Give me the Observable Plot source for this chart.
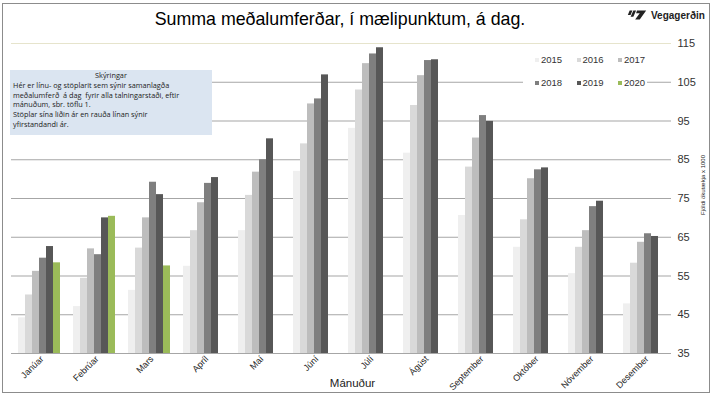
<!DOCTYPE html>
<html><head><meta charset="utf-8">
<script src="https://cdn.jsdelivr.net/npm/d3@7"></script>
<script src="https://cdn.jsdelivr.net/npm/@observablehq/plot@0.6"></script>
<style>
body{margin:0;background:#fff;font-family:"Liberation Sans",Arial,sans-serif;}
#wrap{position:relative;width:713px;height:396px;overflow:hidden;background:#fff;}
#chart{position:absolute;left:0;top:0;}
.ov{position:absolute;}
#outer{left:2px;top:3px;width:708px;height:390px;border:1px solid #8c8c8c;box-sizing:border-box;}
#title{left:0;width:680px;top:9px;text-align:center;font-size:17.8px;color:#000;}
#logo{left:626px;top:9px;font-size:10px;font-weight:bold;color:#222;display:flex;align-items:center;gap:3px;}
#note{left:10px;top:70px;width:202px;height:65px;background:#dbe5f1;font-family:"Open Sans",sans-serif;font-size:7.3px;line-height:9.8px;color:#222;padding:1px 3px;box-sizing:border-box;}
#note .h{text-align:center;}
#legend{left:523px;top:46px;width:124px;height:50px;background:#fff;font-size:9.5px;color:#333;}
#legend .it{position:absolute;display:flex;align-items:center;gap:2px;}
#legend .sw{width:4px;height:4px;display:inline-block;}
#xlab{left:0;width:713px;text-align:center;padding-right:8px;box-sizing:border-box;top:377px;font-size:11.5px;color:#222;}
#ylab{left:703px;top:185px;font-size:6px;color:#222;transform:translate(-50%,-50%) rotate(-90deg);white-space:nowrap;}
</style></head><body>
<div id="wrap">
<div id="chart"></div>
<div class="ov" id="outer"></div>
<div class="ov" id="title">Summa meðalumferðar, í mælipunktum, á dag.</div>
<div class="ov" id="logo"><svg width="22" height="12" viewBox="0 0 24 12"><polygon points="4,1 7,1 5,6 2,6" fill="#222"/><polygon points="8,1 11,1 8,8 5,8" fill="#222"/><polygon points="12,1 22,1 15,11 10,11 15,4 11,4" fill="#222"/></svg><span>Vegagerðin</span></div>
<div class="ov" id="note"><div class="h">Skýringar</div>Hér er línu- og stöplarit sem sýnir samanlagða<br>meðalumferð&nbsp; á dag&nbsp; fyrir alla talningarstaði, eftir<br>mánuðum, sbr. töflu 1.<br>Stöplar sína liðin ár en rauða línan sýnir<br>yfirstandandi ár.</div>
<div class="ov" id="legend"></div>
<div class="ov" id="xlab">Mánuður</div>
<div class="ov" id="ylab">Fjöldi ökutækja x 1000</div>
</div>
<script>
const months = ["Janúar","Febrúar","Mars","Apríl","Maí","Júní","Júlí","Ágúst","September","Október","Nóvember","Desember"];
const years = ["2015","2016","2017","2018","2019","2020"];
const colors = ["#efefef","#d9d9d9","#bdbdbd","#7f7f7f","#575757","#9bbb59"];
const v2015 = [44.2,47.1,51.3,57.5,66.7,82.0,93.1,86.7,70.6,62.4,55.6,47.8];
const v2016 = [50.1,54.4,62.2,66.7,75.8,89.1,103.0,99.0,83.1,69.5,62.4,58.3];
const v2017 = [56.2,62.0,70.0,73.9,81.8,99.4,109.8,106.7,90.6,80.1,66.7,63.7];
const v2018 = [59.6,60.5,79.2,78.9,85.0,100.7,112.3,110.6,96.4,82.4,72.9,65.9];
const v2019 = [62.6,70.0,76.0,80.4,90.4,106.9,113.9,110.8,94.9,82.9,74.3,65.2];
const v2020 = [58.4,70.4,57.6];
const yTicks = [35,45,55,65,75,85,95,105,115];

const series = [v2015,v2016,v2017,v2018,v2019,v2020];
const rows = [];
series.forEach((vals, si) => vals.forEach((v, mi) => rows.push({month: months[mi], year: years[si], value: v})));

const W = 713, H = 396, mL = 5, mR = 37, mT = 43, mB = 43;
const half = (W - mL - mR) / months.length / 2;

const chart = Plot.plot({
  width: W, height: H,
  marginLeft: mL, marginRight: mR, marginTop: mT, marginBottom: mB,
  style: {fontFamily: "Liberation Sans, Arial, sans-serif", background: "transparent"},
  fx: {domain: months, padding: 0, label: null, axis: null},
  x: {domain: years, paddingInner: 0, paddingOuter: 0.82, axis: null},
  y: {domain: [35, 115], ticks: yTicks, label: null},
  color: {domain: years, range: colors},
  marks: [
    Plot.ruleY(yTicks.filter(t => t > 35 && t < 115), {stroke: "#a6a6a6", strokeWidth: 1.2}),
    Plot.ruleY([115], {stroke: "#e6e4cc"}),
    Plot.barY(rows, {fx: "month", x: "year", y1: 35, y2: "value", fill: "year"}),
    Plot.ruleY([35], {stroke: "#a6a6a6"}),
    Plot.ruleX(months, {fx: d => d, y1: 35, y2: 35, insetBottom: -4, dx: -half, stroke: "#a6a6a6"}),
    Plot.ruleX(months.slice(-1), {fx: d => d, y1: 35, y2: 115, dx: half, stroke: "#e6e4cc"}),
    Plot.ruleX(months.slice(0,1), {fx: d => d, y1: 35, y2: 115, dx: -half, stroke: "#e6e4cc"}),
    Plot.axisFx({anchor: "bottom", tickRotate: -45, tickSize: 0, tickPadding: 4, fontSize: 9, fill: "#222", label: null, dx: 3}),
    Plot.axisY({anchor: "right", ticks: yTicks, tickSize: 0, tickPadding: 6, fontSize: 11, fill: "#333", label: null})
  ]
});
document.getElementById("chart").appendChild(chart);

const leg = document.getElementById("legend");
years.forEach((y, i) => {
  const it = document.createElement("div");
  it.className = "it";
  it.style.left = (12 + (i % 3) * 41.5) + "px";
  it.style.top = (8 + Math.floor(i / 3) * 23) + "px";
  it.innerHTML = `<span class="sw" style="background:${colors[i]}"></span><span>${y}</span>`;
  leg.appendChild(it);
});
</script>
</body></html>
